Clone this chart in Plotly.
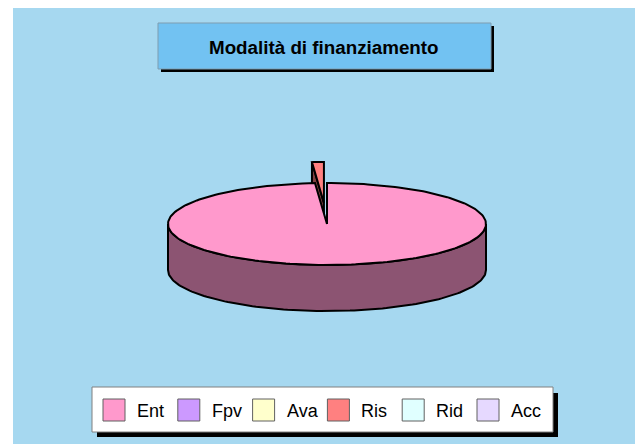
#!/usr/bin/env python3
"""Modalita di finanziamento: exploded 3D style pie drawn on a pixel-sized scatter."""

import numpy as np
import plotly.graph_objects as go

# Data
categories = ['Ent', 'Fpv', 'Ava', 'Ris', 'Rid', 'Acc']
values = [98.8, 0, 0, 1.2, 0, 0]
colors = ['#FF99CC', '#CC99FF', '#FFFFCC', '#FF8080', '#E0FFFF', '#E6D9FF']
title = 'Modalità di finanziamento'

# Pie geometry in px
cx, cy = 327, 224
rx, ry = 159, 41
depth = 46
explode = 21
OUTLINE = '#000000'

fig = go.Figure()


def edge(a):
    # clockwise from 12 o'clock
    return cx + rx * np.sin(a), cy - ry * np.cos(a)


def poly(xs, ys, fill):
    fig.add_trace(go.Scatter(x=xs, y=ys, mode='lines', fill='toself', fillcolor=fill,
                             line=dict(color=OUTLINE, width=2), hoverinfo='skip', showlegend=False))


# Slice angles from the values
total = sum(values)
fracs = np.cumsum([0] + values) / total * 2 * np.pi
ris = categories.index('Ris')
a0, a1 = fracs[ris], fracs[ris + 1]
mid = (a0 + a1) / 2
dx, dy = explode / ry * rx * np.sin(mid), -explode * np.cos(mid)

# Exploded slice goes first, the big one sits in front of it
arc = np.linspace(a0, a1, 8)
ax, ay = edge(arc)
ax, ay = ax + dx, ay + dy
tip_x, tip_y = cx + dx, cy + dy
poly([tip_x, ax[0], ax[0], tip_x, tip_x], [tip_y, ay[0], ay[0] + depth, tip_y + depth, tip_y], '#804040')
poly(np.r_[tip_x, ax, tip_x], np.r_[tip_y, ay, tip_y], colors[ris])

# Side wall of the big slice
front = np.linspace(np.pi / 2, 3 * np.pi / 2, 120)
fx, fy = edge(front)
poly(np.r_[fx, fx[::-1], fx[0]], np.r_[fy, fy[::-1] + depth, fy[0]], '#8C5472')

# Top of the big slice
arc = np.linspace(fracs[0], a0, 240)
ex, ey = edge(arc)
poly(np.r_[cx, ex, cx], np.r_[cy, ey, cy], colors[0])

shapes = [
    # chart background
    dict(type='rect', x0=13, y0=8, x1=635, y1=444, fillcolor='#A6D8F0', line_width=0, layer='below'),
    # title box
    dict(type='rect', x0=161, y0=26, x1=494, y1=72, fillcolor='#000000', line_width=0, layer='below'),
    dict(type='rect', x0=158, y0=23, x1=491, y1=69, fillcolor='#72C2F2',
         line=dict(color='#7F9DB0', width=1), layer='below'),
    # legend box
    dict(type='rect', x0=97, y0=393, x1=558, y1=437, fillcolor='#000000', line_width=0, layer='below'),
    dict(type='rect', x0=92, y0=387, x1=553, y1=432, fillcolor='#FFFFFF',
         line=dict(color='#808080', width=1), layer='below'),
]
annotations = [dict(x=324, y=47, text='<b>%s</b>' % title, showarrow=False,
                    font=dict(family='Liberation Sans', size=18.8, color='#000000'))]

# Legend entries
for i, (name, color) in enumerate(zip(categories, colors)):
    x = 103 + i * 74.8
    shapes.append(dict(type='rect', x0=x, y0=399, x1=x + 22, y1=421, fillcolor=color,
                       line=dict(color='#606060', width=1), layer='below'))
    annotations.append(dict(x=x + 32, y=410.5, text=name, showarrow=False, xanchor='left',
                            font=dict(family='Liberation Sans', size=18, color='#000000')))

fig.update_layout(
    width=635, height=444,
    margin=dict(l=0, r=0, t=0, b=0),
    paper_bgcolor='#FFFFFF',
    plot_bgcolor='rgba(0,0,0,0)',
    showlegend=False,
    shapes=shapes,
    annotations=annotations,
    xaxis=dict(range=[0, 635], visible=False, fixedrange=True),
    yaxis=dict(range=[444, 0], visible=False, fixedrange=True),
)

# drop the page's default margin so axis units are window pixels
fig.write_html("out.html", config={'displayModeBar': False},
               post_script="document.body.style.margin='0';document.documentElement.style.overflow='hidden';")
